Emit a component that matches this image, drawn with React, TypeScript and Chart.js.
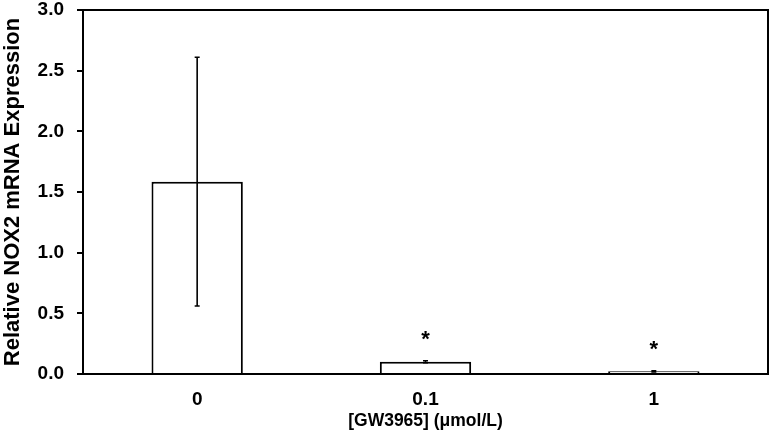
import React, { useEffect, useRef } from "react";
import { Chart, registerables } from "chart.js";

Chart.register(...registerables);

const categories = ["0", "0.1", "1"];
const means = [1.585, 0.101, 0.022];
const errors = [1.025, 0.008, 0.005];
const significance = ["", "*", "*"];

const FONT = "'Liberation Sans', Arial, Helvetica, sans-serif";

const extrasPlugin = {
  id: "extras",
  afterDatasetsDraw(chart: any) {
    const ctx = chart.ctx;
    const xs = chart.scales.x;
    const ys = chart.scales.y;
    ctx.save();
    ctx.strokeStyle = "#000";
    ctx.fillStyle = "#000";
    ctx.lineWidth = 1.6;
    means.forEach((m, i) => {
      const cx = xs.getPixelForValue(i);
      const top = ys.getPixelForValue(m + errors[i]);
      const bot = ys.getPixelForValue(m - errors[i]);
      ctx.beginPath();
      ctx.moveTo(cx, top);
      ctx.lineTo(cx, bot);
      ctx.moveTo(cx - 2.5, top);
      ctx.lineTo(cx + 2.5, top);
      ctx.moveTo(cx - 2.5, bot);
      ctx.lineTo(cx + 2.5, bot);
      ctx.stroke();
      if (significance[i]) {
        ctx.font = `bold 22px ${FONT}`;
        ctx.textAlign = "center";
        ctx.textBaseline = "alphabetic";
        ctx.fillText(significance[i], cx, top - 15);
      }
    });
    const a = chart.chartArea;
    ctx.lineWidth = 2;
    ctx.strokeRect(a.left, a.top, a.right - a.left, a.bottom - a.top);
    ctx.restore();
  },
};

export default function App() {
  const ref = useRef<HTMLCanvasElement | null>(null);
  useEffect(() => {
    if (!ref.current) return;
    const chart = new Chart(ref.current, {
      type: "bar",
      data: {
        labels: categories,
        datasets: [
          {
            data: means,
            backgroundColor: "#ffffff",
            borderColor: "#000000",
            borderWidth: 2,
            barPercentage: 0.4,
            categoryPercentage: 1,
          },
        ],
      },
      options: {
        responsive: false,
        animation: false,
        devicePixelRatio: 1,
        layout: { padding: { top: 0, right: 3, left: 0, bottom: 0 } },
        plugins: { legend: { display: false }, tooltip: { enabled: false } },
        scales: {
          x: {
            afterFit: (s: any) => {
              s.height = 66;
            },
            grid: { display: false },
            border: { display: true, color: "#000", width: 2 },
            ticks: {
              color: "#000",
              padding: 6,
              font: { family: FONT, size: 19, weight: "bold" },
            },
            title: {
              display: true,
              text: "[GW3965] (\u03bcmol/L)",
              color: "#000",
              padding: { top: 0, bottom: 8 },
              font: { family: FONT, size: 17.5, weight: "bold" },
            },
          },
          y: {
            min: 0,
            max: 3,
            afterFit: (s: any) => {
              s.width = 83;
              s.paddingTop = 10;
              s.paddingBottom = 0;
            },
            grid: {
              drawOnChartArea: false,
              drawTicks: true,
              tickLength: 6,
              color: "#000",
              lineWidth: 2,
            },
            border: { display: true, color: "#000", width: 2 },
            ticks: {
              stepSize: 0.5,
              color: "#000",
              padding: 13,
              callback: (v: any) => Number(v).toFixed(1),
              font: { family: FONT, size: 19, weight: "bold" },
            },
            title: {
              display: true,
              text: "Relative NOX2 mRNA Expression",
              color: "#000",
              padding: { top: 0, bottom: 0 },
              font: { family: FONT, size: 22, weight: "bold" },
            },
          },
        },
      },
      plugins: [extrasPlugin],
    });
    return () => chart.destroy();
  }, []);
  return (
    <div style={{ position: "absolute", left: 0, top: 0, width: 771, height: 440, background: "#fff" }}>
      <canvas ref={ref} width={771} height={440} />
    </div>
  );
}
